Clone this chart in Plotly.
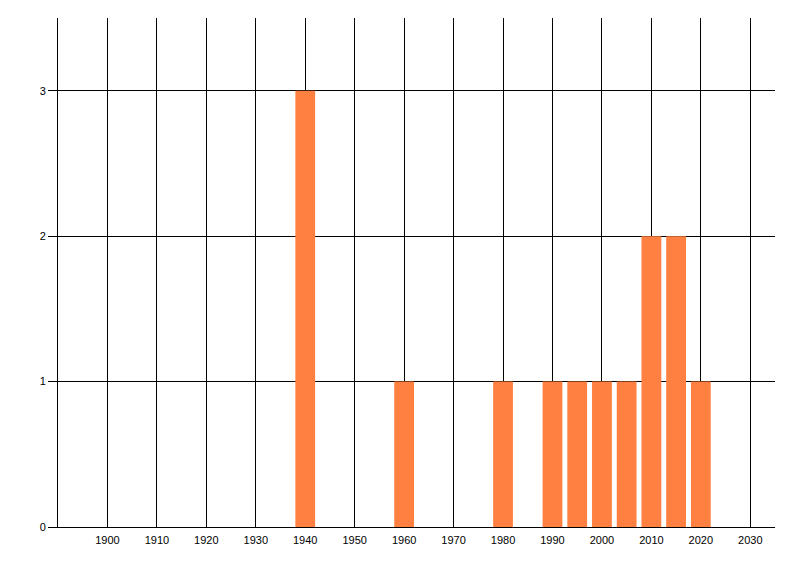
import plotly.graph_objects as go

# year buckets and counts
years = [1940, 1960, 1980, 1990, 1995, 2000, 2005, 2010, 2015, 2020]
counts = [3, 1, 1, 1, 1, 1, 1, 2, 2, 1]
x_ticks = list(range(1900, 2031, 10))

fig = go.Figure()

fig.add_trace(go.Bar(x=years, y=counts, width=4,
                     marker=dict(color='rgb(255,128,64)', line=dict(width=0))))

# page body adds an 8px offset, margins compensate for it
fig.update_layout(width=800, height=576,
                  margin=dict(l=50, r=33, t=10, b=57, autoexpand=False),
                  paper_bgcolor='white', plot_bgcolor='white',
                  showlegend=False,
                  font=dict(family='Liberation Sans, Arial, sans-serif', size=11, color='black'))

fig.update_xaxes(range=[1890, 2035], tickvals=x_ticks, ticktext=[str(t) for t in x_ticks],
                 showgrid=True, gridcolor='black', gridwidth=1,
                 showline=True, linecolor='black', linewidth=1,
                 ticks='outside', ticklen=3, tickcolor='white', zeroline=False)

fig.update_yaxes(range=[0, 3.5], tickvals=[0, 1, 2, 3],
                 showgrid=True, gridcolor='black', gridwidth=1,
                 showline=True, linecolor='black', linewidth=1,
                 ticks='outside', ticklen=9, tickcolor='black', zeroline=False)

fig.write_html("out.html")
